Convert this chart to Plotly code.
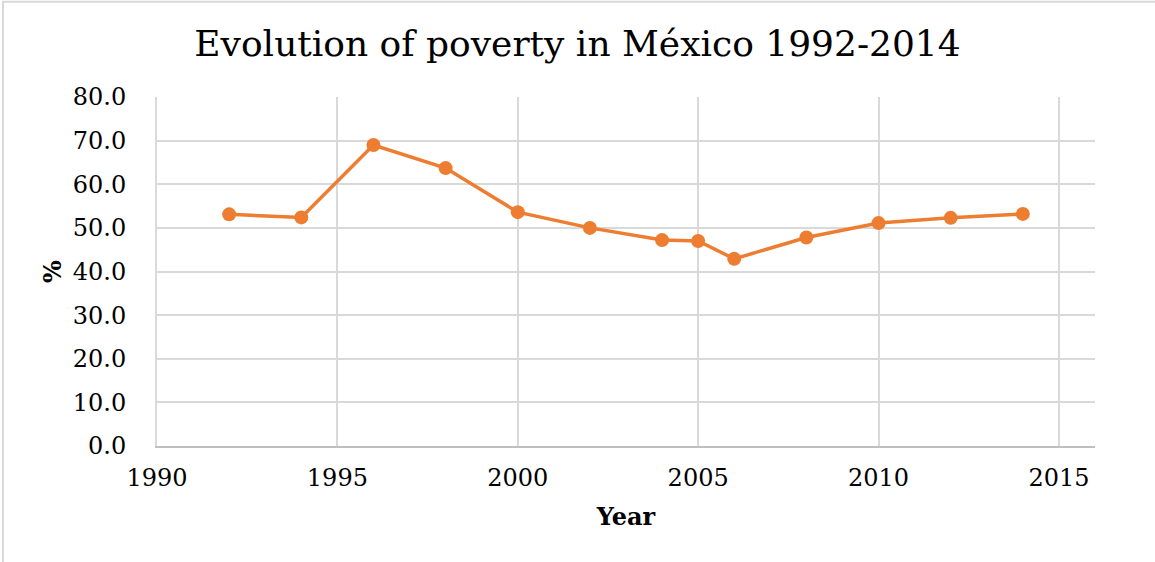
import plotly.graph_objects as go

# Poverty rate (%) by survey year
years = [1992, 1994, 1996, 1998, 2000, 2002, 2004, 2005, 2006, 2008, 2010, 2012, 2014]
poverty = [53.1, 52.4, 69.0, 63.7, 53.6, 50.0, 47.2, 47.0, 42.9, 47.8, 51.1, 52.3, 53.2]

x_ticks = [1990, 1995, 2000, 2005, 2010, 2015]
y_ticks = [0, 10, 20, 30, 40, 50, 60, 70, 80]

ORANGE = "#ED7D31"
GRID = "#D9D9D9"
FONT = "DejaVu Serif"

fig = go.Figure(
    go.Scatter(
        x=years,
        y=poverty,
        mode="lines+markers",
        line=dict(color=ORANGE, width=3.5),
        marker=dict(color=ORANGE, size=14),
        hoverinfo="x+y",
    )
)

fig.update_layout(
    width=1155,
    height=562,
    margin=dict(l=157, r=60, t=97, b=116),
    paper_bgcolor="white",
    plot_bgcolor="white",
    showlegend=False,
    font=dict(family=FONT, color="#000000", size=24),
    title=dict(
        text="Evolution of poverty in México 1992-2014",
        x=0.5,
        xanchor="center",
        y=0.922,
        yanchor="middle",
        font=dict(family=FONT, size=36, color="#000000"),
    ),
    shapes=[
        dict(
            type="rect", xref="paper", yref="paper",
            x0=-0.1642, x1=1.2, y0=-0.5, y1=1.273,
            line=dict(color="#D9D9D9", width=2),
            fillcolor="rgba(0,0,0,0)", layer="below",
        )
    ],
)

fig.update_xaxes(
    range=[1990, 2016],
    tickvals=x_ticks,
    ticktext=[str(v) for v in x_ticks],
    showgrid=True,
    gridcolor=GRID,
    gridwidth=2,
    zeroline=False,
    showline=True,
    linecolor="#BFBFBF",
    linewidth=2,
    ticks="",
    ticklabelstandoff=9,
    tickfont=dict(family=FONT, size=24),
    title=dict(text="<b>Year</b>", font=dict(family=FONT, size=24), standoff=17),
)

fig.update_yaxes(
    range=[0, 80],
    tickvals=y_ticks,
    ticktext=[f"{v:.1f}" for v in y_ticks],
    showgrid=True,
    gridcolor=GRID,
    gridwidth=2,
    zeroline=False,
    showline=True,
    linecolor="#D9D9D9",
    linewidth=2,
    ticks="",
    ticklabelstandoff=24,
    tickfont=dict(family=FONT, size=24),
    title=dict(text="<b>%</b>", font=dict(family=FONT, size=24), standoff=4),
)

fig.write_html("out.html")
